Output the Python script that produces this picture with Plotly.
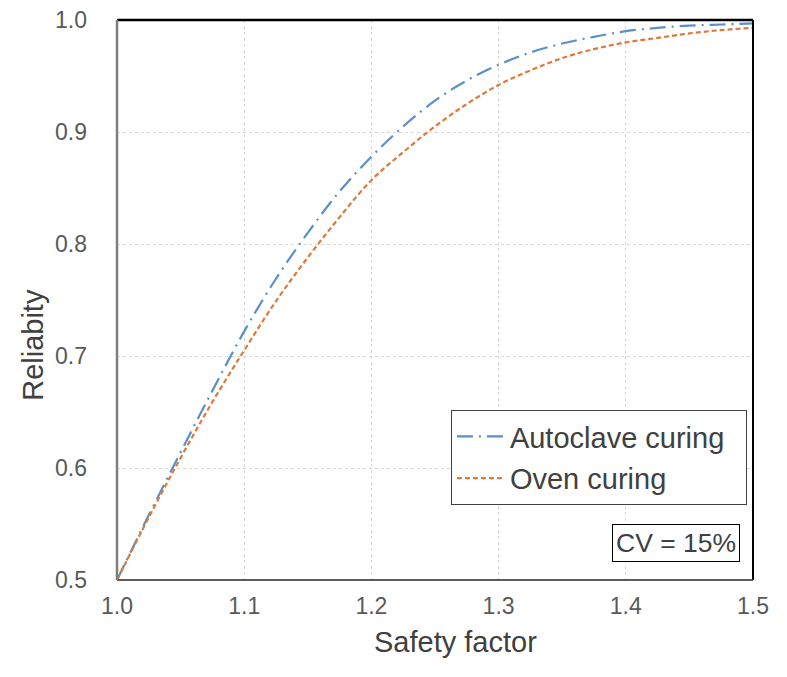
import plotly.graph_objects as go

safety_factor = [1.0, 1.025, 1.05, 1.075, 1.1, 1.125, 1.15, 1.175, 1.2, 1.225, 1.25,
                 1.275, 1.3, 1.325, 1.35, 1.375, 1.4, 1.425, 1.45, 1.475, 1.5]
autoclave = [0.500, 0.558, 0.614, 0.669, 0.722, 0.769, 0.810, 0.847, 0.878, 0.905, 0.928,
             0.946, 0.960, 0.971, 0.979, 0.985, 0.990, 0.993, 0.995, 0.996, 0.997]
oven = [0.500, 0.556, 0.609, 0.659, 0.705, 0.749, 0.788, 0.824, 0.857, 0.882, 0.905,
        0.925, 0.942, 0.955, 0.966, 0.974, 0.980, 0.984, 0.988, 0.991, 0.993]

x_ticks = [1.0, 1.1, 1.2, 1.3, 1.4, 1.5]
y_ticks = [0.5, 0.6, 0.7, 0.8, 0.9, 1.0]

FONT = "Liberation Sans, Arial, sans-serif"
TXT = "#595959"
DARK = "#404040"
PAD = "\u00a0" * 2

fig = go.Figure()
fig.add_trace(go.Scatter(x=safety_factor, y=autoclave, mode="lines", name="Autoclave curing" + PAD,
                         legendgroup="a",
                         line=dict(color="#5B8FC9", width=2.2, dash="16px,6px,2px,6px", shape="spline")))
fig.add_trace(go.Scatter(x=safety_factor, y=oven, mode="lines", name="Oven curing",
                         legendgroup="b",
                         line=dict(color="#DD7A3A", width=2.2, dash="5px,3px", shape="spline")))

fig.update_layout(
    width=787, height=677,
    margin=dict(l=117, r=34, t=20, b=97),
    paper_bgcolor="white", plot_bgcolor="white",
    font=dict(family=FONT, color=TXT, size=22),
    showlegend=True,
    legend=dict(x=0.525, y=0.3036, xanchor="left", yanchor="top",
                bgcolor="white", bordercolor=DARK, borderwidth=1,
                font=dict(size=29, color=DARK, family=FONT),
                tracegroupgap=1, itemwidth=48),
    xaxis=dict(range=[1.0, 1.5], tickvals=x_ticks, ticktext=[f"{v:.1f}" for v in x_ticks],
               showgrid=True, gridcolor="#d9d9d9", griddash="dot", gridwidth=1,
               zeroline=False, showline=False, ticks="", ticklabelstandoff=10,
               tickfont=dict(size=23, color=TXT), automargin=False),
    yaxis=dict(range=[0.5, 1.0], tickvals=y_ticks, ticktext=[f"{v:.1f}" for v in y_ticks],
               showgrid=True, gridcolor="#d9d9d9", griddash="dot", gridwidth=1,
               zeroline=False, showline=False, ticks="", ticklabelstandoff=29,
               tickfont=dict(size=23, color=TXT), automargin=False),
)

# axis titles
fig.add_annotation(xref="paper", yref="paper", x=0.533, y=-0.1107, xanchor="center", yanchor="middle",
                   text="Safety factor", showarrow=False, font=dict(size=29, color=DARK, family=FONT))
fig.add_annotation(xref="paper", yref="paper", x=-0.1324, y=0.4196, xanchor="center", yanchor="middle",
                   text="Reliabity", showarrow=False, textangle=-90,
                   font=dict(size=29, color=DARK, family=FONT))

# plot frame
fig.add_shape(type="line", xref="paper", yref="paper", x0=0, x1=1, y0=1, y1=1,
              line=dict(color="black", width=2.5))
fig.add_shape(type="line", xref="paper", yref="paper", x0=1, x1=1, y0=0, y1=1,
              line=dict(color="black", width=2))
fig.add_shape(type="line", xref="paper", yref="paper", x0=0, x1=1, y0=0, y1=0,
              line=dict(color="#262626", width=1.5))
fig.add_shape(type="line", xref="paper", yref="paper", x0=0, x1=0, y0=0, y1=1,
              line=dict(color="#7f7f7f", width=2.5))

fig.add_annotation(xref="paper", yref="paper", x=0.98, y=0.066, xanchor="right", yanchor="middle",
                   text="CV = 15%", showarrow=False,
                   font=dict(size=26.5, color=DARK, family=FONT),
                   bordercolor="black", borderwidth=1, borderpad=3, bgcolor="white")

fig.write_html("out.html")
